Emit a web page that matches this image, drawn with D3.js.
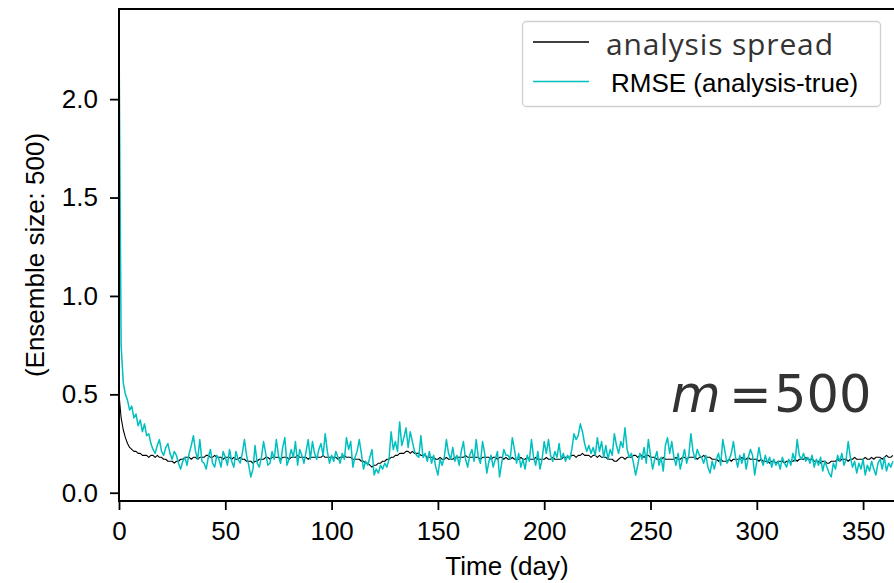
<!DOCTYPE html>
<html>
<head>
<meta charset="utf-8">
<script src="https://cdn.jsdelivr.net/npm/d3@7"></script>
<style>
  body { margin: 0; background: #fff; }
  svg { display: block; }
  .tick text { font-family: "Liberation Sans", Arial, sans-serif; font-size: 26px; fill: #000; }
  .axis-title { font-family: "Liberation Sans", Arial, sans-serif; font-size: 26px; fill: #000; }
</style>
</head>
<body>
<svg id="chart" width="894" height="583"></svg>
<script>
// daily values, day 0 .. 364
const spread = [
  0.50, 0.38, 0.32, 0.28, 0.25, 0.23, 0.22, 0.21, 0.21, 0.20,
  0.20, 0.19, 0.19, 0.19, 0.18, 0.19, 0.19, 0.18, 0.19, 0.18,
  0.18, 0.17, 0.17, 0.16, 0.16, 0.16, 0.15, 0.16, 0.16, 0.17,
  0.17, 0.18, 0.18, 0.18, 0.17, 0.18, 0.18, 0.17, 0.18, 0.18,
  0.18, 0.19, 0.19, 0.18, 0.18, 0.19, 0.18, 0.18, 0.18, 0.17,
  0.18, 0.18, 0.18, 0.17, 0.18, 0.17, 0.17, 0.18, 0.17, 0.17,
  0.16, 0.16, 0.16, 0.15, 0.16, 0.16, 0.17, 0.17, 0.17, 0.18,
  0.18, 0.17, 0.18, 0.18, 0.18, 0.18, 0.17, 0.18, 0.18, 0.18,
  0.17, 0.18, 0.18, 0.18, 0.19, 0.18, 0.18, 0.18, 0.18, 0.17,
  0.18, 0.18, 0.18, 0.18, 0.18, 0.18, 0.19, 0.18, 0.18, 0.18,
  0.18, 0.18, 0.18, 0.17, 0.18, 0.18, 0.19, 0.18, 0.18, 0.18,
  0.17, 0.17, 0.17, 0.17, 0.16, 0.16, 0.15, 0.15, 0.14, 0.13,
  0.14, 0.14, 0.15, 0.15, 0.16, 0.16, 0.17, 0.17, 0.18, 0.18,
  0.19, 0.19, 0.20, 0.20, 0.20, 0.21, 0.21, 0.20, 0.21, 0.20,
  0.20, 0.20, 0.19, 0.19, 0.19, 0.18, 0.18, 0.18, 0.18, 0.17,
  0.17, 0.18, 0.17, 0.17, 0.18, 0.17, 0.17, 0.17, 0.18, 0.18,
  0.18, 0.18, 0.18, 0.19, 0.18, 0.18, 0.18, 0.18, 0.18, 0.18,
  0.17, 0.18, 0.18, 0.18, 0.18, 0.17, 0.18, 0.18, 0.17, 0.18,
  0.18, 0.17, 0.18, 0.17, 0.17, 0.18, 0.17, 0.17, 0.17, 0.18,
  0.17, 0.17, 0.18, 0.17, 0.17, 0.17, 0.18, 0.17, 0.17, 0.17,
  0.17, 0.18, 0.17, 0.17, 0.18, 0.17, 0.17, 0.17, 0.17, 0.18,
  0.18, 0.18, 0.18, 0.19, 0.19, 0.18, 0.19, 0.19, 0.20, 0.19,
  0.19, 0.19, 0.18, 0.19, 0.19, 0.18, 0.19, 0.18, 0.18, 0.18,
  0.17, 0.17, 0.17, 0.16, 0.16, 0.17, 0.18, 0.18, 0.17, 0.18,
  0.18, 0.18, 0.19, 0.19, 0.18, 0.19, 0.19, 0.18, 0.19, 0.19,
  0.18, 0.18, 0.18, 0.17, 0.17, 0.17, 0.18, 0.17, 0.17, 0.17,
  0.17, 0.17, 0.18, 0.17, 0.17, 0.18, 0.18, 0.17, 0.18, 0.18,
  0.18, 0.18, 0.17, 0.18, 0.18, 0.19, 0.18, 0.18, 0.18, 0.17,
  0.17, 0.17, 0.16, 0.17, 0.16, 0.16, 0.16, 0.17, 0.16, 0.17,
  0.17, 0.17, 0.17, 0.18, 0.17, 0.17, 0.18, 0.17, 0.17, 0.17,
  0.17, 0.16, 0.17, 0.16, 0.16, 0.16, 0.15, 0.16, 0.16, 0.15,
  0.16, 0.16, 0.16, 0.15, 0.16, 0.16, 0.16, 0.16, 0.17, 0.16,
  0.17, 0.17, 0.17, 0.18, 0.17, 0.17, 0.17, 0.16, 0.16, 0.16,
  0.15, 0.16, 0.16, 0.15, 0.15, 0.16, 0.16, 0.16, 0.17, 0.16,
  0.17, 0.17, 0.17, 0.16, 0.17, 0.17, 0.18, 0.17, 0.17, 0.17,
  0.17, 0.18, 0.17, 0.17, 0.18, 0.17, 0.18, 0.18, 0.18, 0.17,
  0.18, 0.19, 0.18, 0.18, 0.19
];

const rmse = [
  2.34, 0.75, 0.56, 0.50, 0.47, 0.42, 0.44, 0.38, 0.40, 0.34,
  0.37, 0.31, 0.35, 0.29, 0.30, 0.25, 0.22, 0.20, 0.24, 0.27,
  0.21, 0.19, 0.23, 0.25, 0.20, 0.17, 0.21, 0.19, 0.15, 0.12,
  0.16, 0.18, 0.14, 0.20, 0.24, 0.29, 0.21, 0.17, 0.27, 0.16,
  0.15, 0.12, 0.18, 0.22, 0.15, 0.13, 0.19, 0.17, 0.13, 0.21,
  0.18, 0.14, 0.22, 0.16, 0.13, 0.21, 0.17, 0.15, 0.20, 0.27,
  0.19, 0.14, 0.08, 0.12, 0.24, 0.15, 0.13, 0.18, 0.26, 0.20,
  0.14, 0.15, 0.21, 0.17, 0.27, 0.19, 0.15, 0.23, 0.28, 0.14,
  0.17, 0.22, 0.18, 0.26, 0.14, 0.22, 0.19, 0.15, 0.21, 0.27,
  0.17, 0.26, 0.20, 0.17, 0.22, 0.25, 0.19, 0.30, 0.21, 0.15,
  0.19, 0.16, 0.21, 0.18, 0.15, 0.20, 0.17, 0.28, 0.22, 0.26,
  0.13, 0.18, 0.21, 0.27, 0.20, 0.12, 0.16, 0.14, 0.18, 0.22,
  0.09, 0.12, 0.10, 0.14, 0.12, 0.15, 0.13, 0.17, 0.31, 0.22,
  0.26, 0.21, 0.36, 0.24, 0.28, 0.33, 0.23, 0.31, 0.26, 0.21,
  0.19, 0.18, 0.29, 0.18, 0.20, 0.16, 0.21, 0.15, 0.19, 0.13,
  0.09, 0.17, 0.14, 0.18, 0.27, 0.20, 0.17, 0.23, 0.16, 0.19,
  0.14, 0.21, 0.26, 0.17, 0.13, 0.19, 0.22, 0.16, 0.27, 0.18,
  0.15, 0.26, 0.20, 0.10, 0.16, 0.19, 0.13, 0.17, 0.21, 0.08,
  0.15, 0.22, 0.19, 0.19, 0.17, 0.28, 0.22, 0.15, 0.20, 0.13,
  0.17, 0.12, 0.19, 0.16, 0.27, 0.18, 0.14, 0.21, 0.12, 0.17,
  0.26, 0.20, 0.27, 0.19, 0.16, 0.21, 0.18, 0.25, 0.17, 0.20,
  0.16, 0.19, 0.17, 0.22, 0.30, 0.27, 0.29, 0.35, 0.31, 0.25,
  0.21, 0.24, 0.20, 0.23, 0.19, 0.28, 0.21, 0.26, 0.18, 0.24,
  0.17, 0.22, 0.19, 0.30, 0.24, 0.20, 0.26, 0.23, 0.33, 0.22,
  0.18, 0.20, 0.15, 0.09, 0.14, 0.20, 0.17, 0.23, 0.15, 0.27,
  0.19, 0.12, 0.17, 0.21, 0.14, 0.18, 0.11, 0.24, 0.28, 0.20,
  0.26, 0.18, 0.14, 0.20, 0.12, 0.17, 0.22, 0.15, 0.19, 0.30,
  0.21, 0.17, 0.22, 0.19, 0.18, 0.15, 0.19, 0.13, 0.10, 0.16,
  0.12, 0.17, 0.20, 0.14, 0.27, 0.21, 0.15, 0.17, 0.20, 0.26,
  0.18, 0.13, 0.19, 0.15, 0.20, 0.12, 0.18, 0.22, 0.19, 0.09,
  0.16, 0.23, 0.17, 0.14, 0.19, 0.15, 0.18, 0.13, 0.17, 0.14,
  0.16, 0.12, 0.18, 0.15, 0.13, 0.17, 0.14, 0.20, 0.16, 0.27,
  0.19, 0.17, 0.20, 0.16, 0.18, 0.15, 0.19, 0.13, 0.17, 0.14,
  0.18, 0.11, 0.16, 0.13, 0.10, 0.08, 0.15, 0.12, 0.19, 0.16,
  0.20, 0.14, 0.17, 0.26, 0.18, 0.13, 0.16, 0.10, 0.15, 0.12,
  0.17, 0.09, 0.14, 0.11, 0.16, 0.12, 0.09, 0.15, 0.17, 0.12,
  0.18, 0.11, 0.15, 0.13, 0.16
];

const xTicks = [0, 50, 100, 150, 200, 250, 300, 350];
const yTicks = [0.0, 0.5, 1.0, 1.5, 2.0];
const seriesNames = ["analysis spread", "RMSE (analysis-true)"];
const seriesColors = ["#000000", "#00bfbf"];

const svg = d3.select("#chart");
const plotLeft = 119, plotRight = 895, plotTop = 9, plotBottom = 501;

const x = d3.scaleLinear().domain([0, 365]).range([plotLeft, plotRight]);
const y = d3.scaleLinear().domain([-0.042, 2.458]).range([plotBottom, plotTop]);

svg.append("defs").append("clipPath").attr("id", "plot-clip")
   .append("rect")
   .attr("x", plotLeft).attr("y", plotTop)
   .attr("width", plotRight - plotLeft).attr("height", plotBottom - plotTop);

const line = d3.line()
               .x((d, i) => x(i))
               .y(d => y(d));

const plot = svg.append("g").attr("clip-path", "url(#plot-clip)");

[spread, rmse].forEach((series, k) => {
    plot.append("path")
        .datum(series)
        .attr("fill", "none")
        .attr("stroke", seriesColors[k])
        .attr("stroke-width", k === 0 ? 1.1 : 1.5)
        .attr("stroke-linejoin", "round")
        .attr("d", line);
});

// axes
const xAxis = svg.append("g")
                 .attr("transform", `translate(0, ${plotBottom})`)
                 .call(d3.axisBottom(x).tickValues(xTicks).tickFormat(d3.format("d")).tickSizeOuter(0).tickSize(9).tickPadding(12));
const yAxis = svg.append("g")
                 .attr("transform", `translate(${plotLeft}, 0)`)
                 .call(d3.axisLeft(y).tickValues(yTicks).tickFormat(d3.format(".1f")).tickSizeOuter(0).tickSize(9).tickPadding(12));

[xAxis, yAxis].forEach(g => {
    g.select(".domain").remove();
    g.selectAll(".tick line").attr("stroke", "#000").attr("stroke-width", 1.8);
});

// frame
svg.append("rect")
   .attr("x", plotLeft).attr("y", plotTop)
   .attr("width", plotRight - plotLeft).attr("height", plotBottom - plotTop)
   .attr("fill", "none")
   .attr("stroke", "#000")
   .attr("stroke-width", 2);

svg.append("text")
   .attr("class", "axis-title")
   .attr("x", (plotLeft + plotRight) / 2)
   .attr("y", 575)
   .attr("text-anchor", "middle")
   .text("Time (day)");

svg.append("text")
   .attr("class", "axis-title")
   .attr("transform", `translate(44, ${(plotTop + plotBottom) / 2}) rotate(-90)`)
   .attr("text-anchor", "middle")
   .text("(Ensemble size: 500)");

// legend
const legend = svg.append("g");
legend.append("rect")
      .attr("x", 522.5).attr("y", 21.5)
      .attr("width", 358).attr("height", 85)
      .attr("rx", 4)
      .attr("fill", "#fff")
      .attr("fill-opacity", 0.85)
      .attr("stroke", "#d0d0d0")
      .attr("stroke-width", 1.3);

const legendY = [42, 81.5];
seriesNames.forEach((name, k) => {
    legend.append("line")
          .attr("x1", 533).attr("x2", 589)
          .attr("y1", legendY[k]).attr("y2", legendY[k])
          .attr("stroke", seriesColors[k])
          .attr("stroke-width", 1.3);
});

legend.append("text")
      .attr("x", 606).attr("y", 55)
      .attr("textLength", 227)
      .style("font-family", "'Open Sans', 'Noto Sans', sans-serif")
      .style("font-size", "30px")
      .style("fill", "#333")
      .text(seriesNames[0]);

legend.append("text")
      .attr("x", 611).attr("y", 91.5)
      .style("font-family", "'Liberation Sans', Arial, sans-serif")
      .style("font-size", "26px")
      .style("fill", "#000")
      .text(seriesNames[1]);

// ensemble size annotation, laid out like mathtext "m = 500"
const note = svg.append("g")
                .style("font-family", "'DejaVu Sans', sans-serif")
                .style("font-size", "51px")
                .style("fill", "#333");
note.append("text").attr("x", 671).attr("y", 411.5).style("font-style", "italic").text("m");
note.append("text").attr("x", 729).attr("y", 411.5).text("=");
note.append("text").attr("x", 774).attr("y", 411.5).text("500");
</script>
</body>
</html>
